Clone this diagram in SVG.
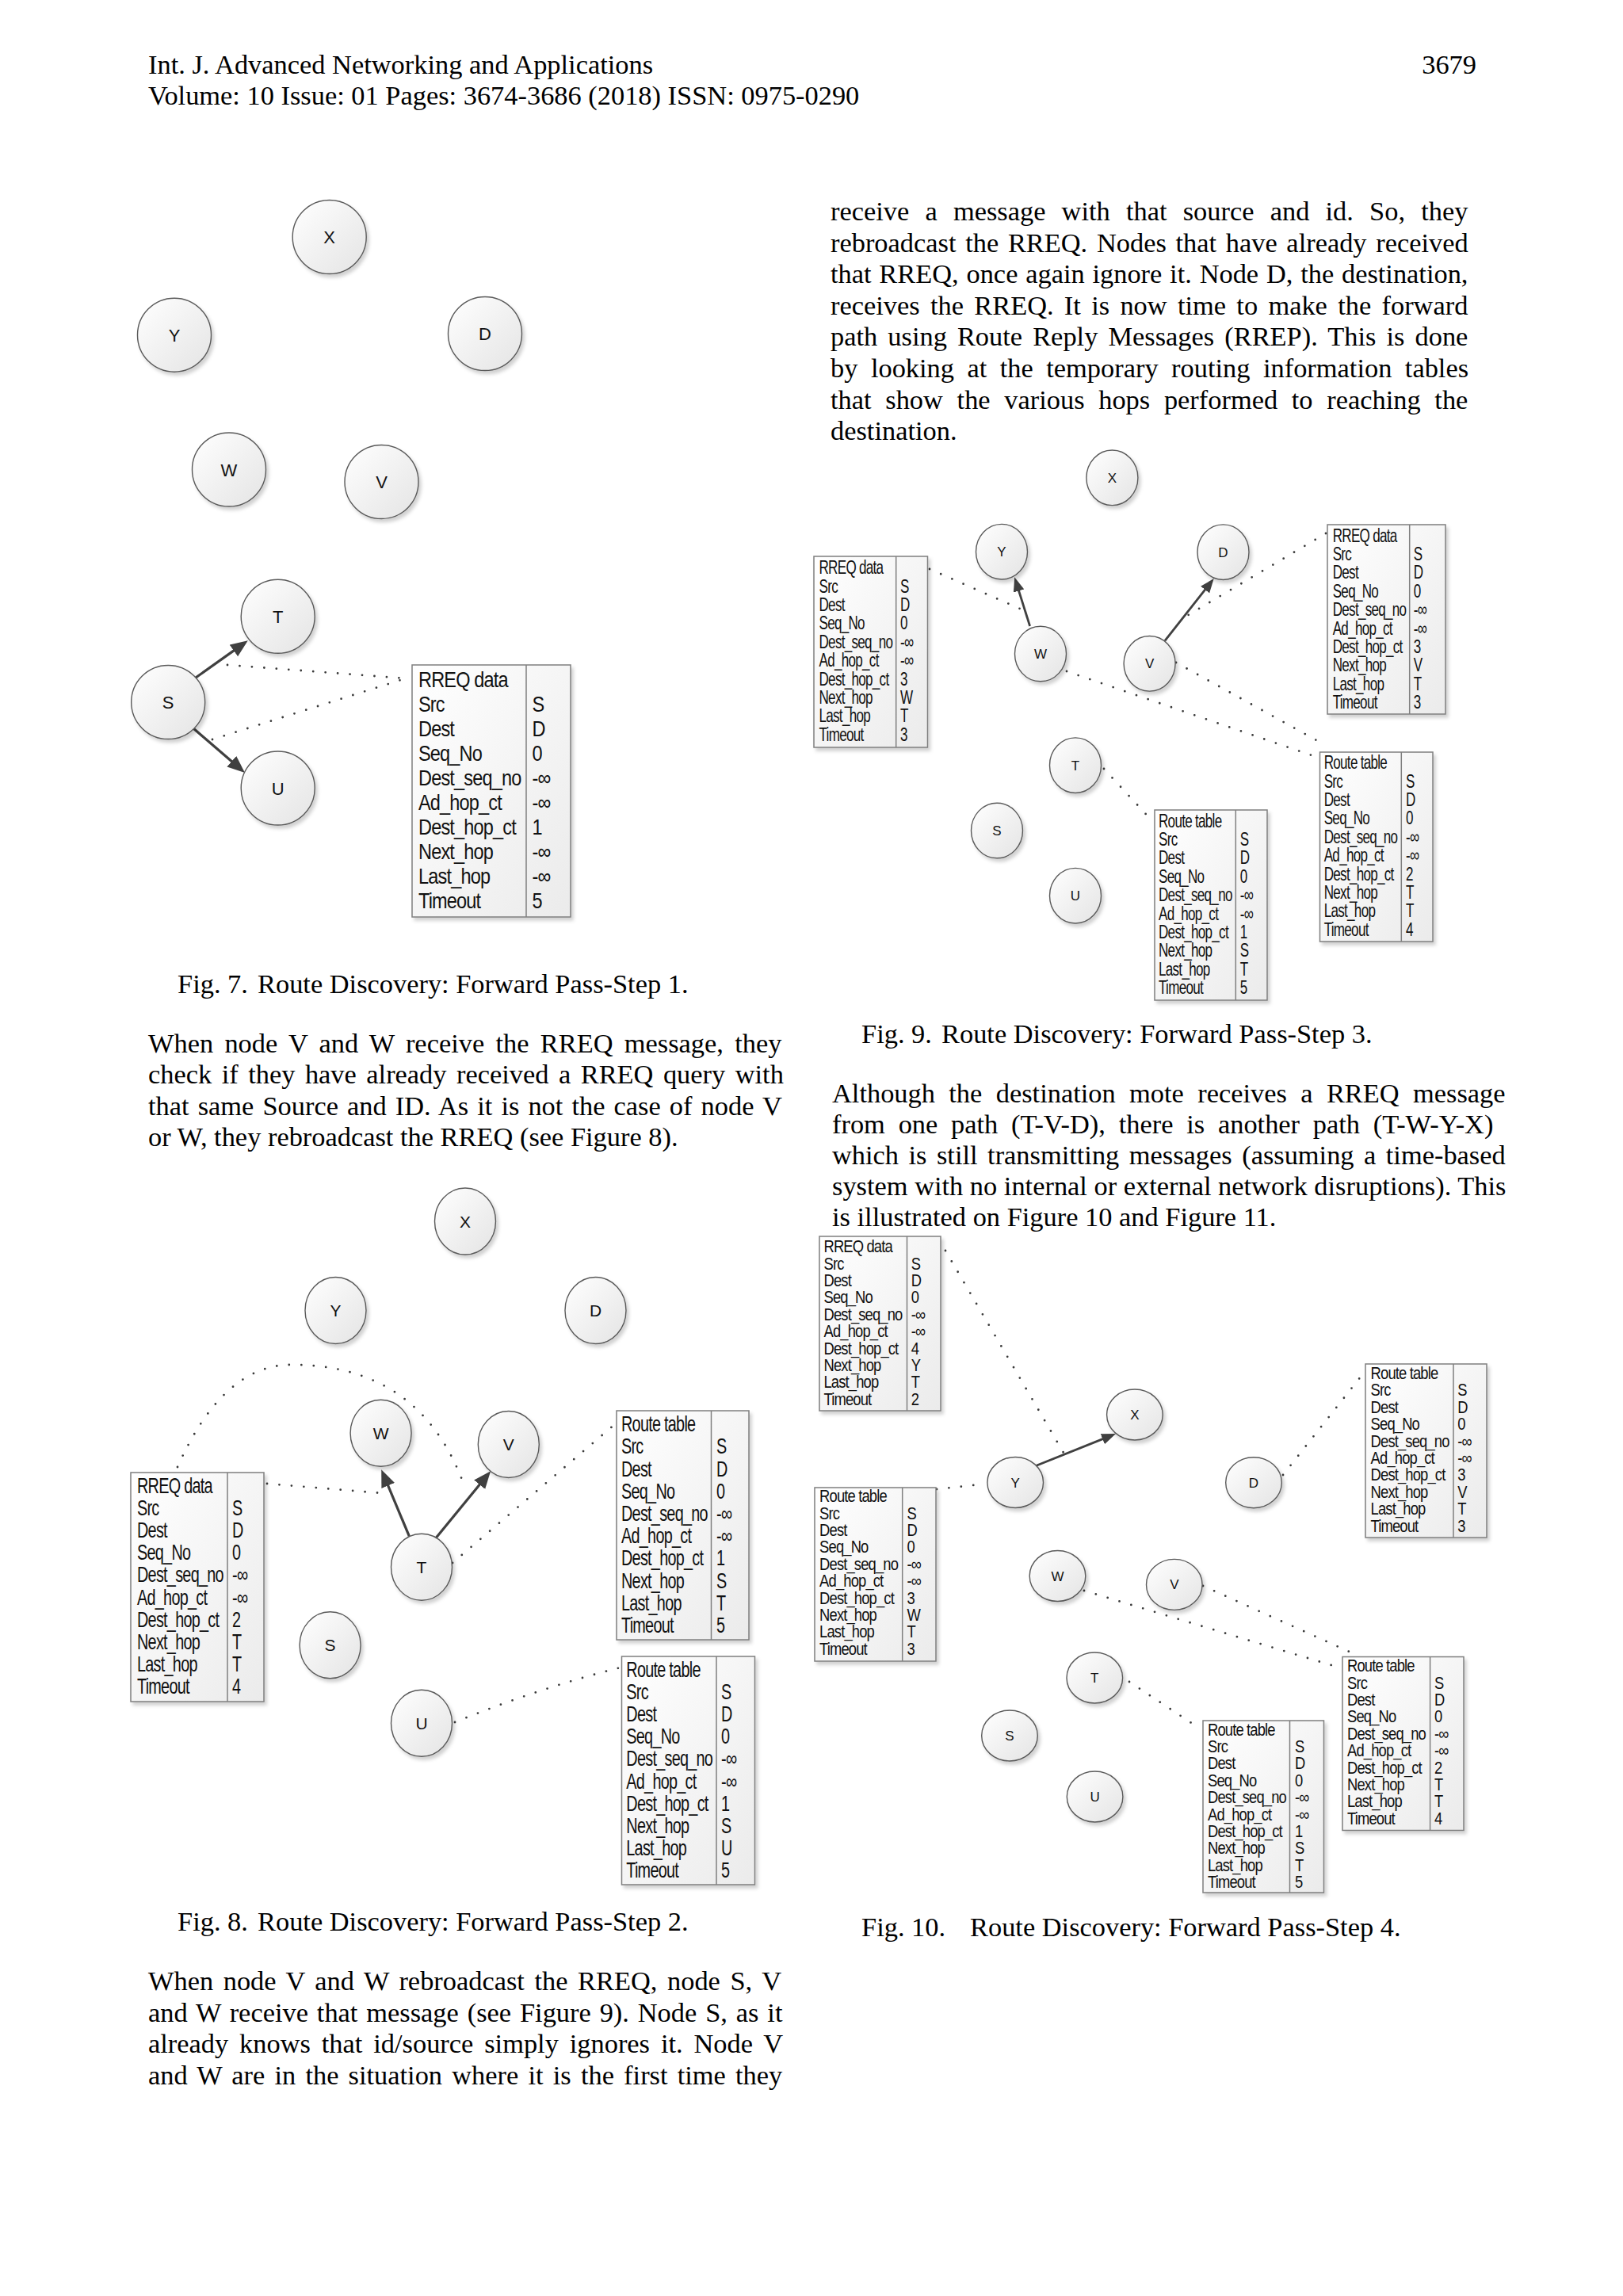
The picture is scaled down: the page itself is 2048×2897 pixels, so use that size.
<svg xmlns="http://www.w3.org/2000/svg" width="2048" height="2897" viewBox="0 0 2048 2897">
<style>
.body{font-family:"Liberation Serif","Times New Roman",serif;font-size:34.4px;fill:#000}
.node ellipse{fill:url(#ng);stroke:#5a5a5a;stroke-width:1.4;filter:url(#sh)}
.lbl{font-family:"Liberation Sans",Arial,sans-serif;text-anchor:middle;fill:#111}
.tb rect{fill:url(#tg);stroke:#7f7f7f;stroke-width:1.5;filter:url(#sh)}
.tb line{stroke:#7f7f7f;stroke-width:1.5}
.tt{font-family:"Liberation Sans",Arial,sans-serif;fill:#111;letter-spacing:-1px}
.dot{fill:none;stroke:#3a3a3a;stroke-width:2.8;stroke-linecap:round;stroke-dasharray:0 15.5}
.arr{stroke:#404040;stroke-width:3.2;fill:none}
.a1{marker-end:url(#ah)}
.a2{marker-end:url(#ah2);stroke-width:2.8}
</style>
<defs>
<linearGradient id="ng" x1="0" y1="0" x2="1" y2="1"><stop offset="0" stop-color="#ffffff"/><stop offset="1" stop-color="#e4e4e4"/></linearGradient>
<linearGradient id="tg" x1="0" y1="0" x2="1" y2="1"><stop offset="0" stop-color="#ffffff"/><stop offset="1" stop-color="#ebebeb"/></linearGradient>
<filter id="sh" x="-20%" y="-20%" width="150%" height="150%"><feDropShadow dx="3" dy="4" stdDeviation="2" flood-color="#000" flood-opacity="0.18"/></filter>
<marker id="ah" markerUnits="userSpaceOnUse" markerWidth="24" markerHeight="20" refX="14" refY="9" orient="auto"><path d="M0,0 L22,9 L0,18 z" fill="#404040"/></marker>
<marker id="ah2" markerUnits="userSpaceOnUse" markerWidth="20" markerHeight="16" refX="11" refY="7" orient="auto"><path d="M0,0 L18,7 L0,14 z" fill="#404040"/></marker>
</defs>
<rect width="2048" height="2897" fill="#fff"/>

<g id="header">
<text class="body" x="187" y="93">Int. J. Advanced Networking and Applications</text>
<text class="body" x="1863" y="93" text-anchor="end">3679</text>
<text class="body" x="187" y="132">Volume: 10 Issue: 01 Pages: 3674-3686 (2018) ISSN: 0975-0290</text>
</g>

<g id="text">
<text class="body" x="1048" y="278" style="word-spacing:11.6px">receive a message with that source and id. So, they</text>
<text class="body" x="1048" y="317.6" style="word-spacing:3.1px">rebroadcast the RREQ. Nodes that have already received</text>
<text class="body" x="1048" y="357.2" style="word-spacing:1.2px">that RREQ, once again ignore it. Node D, the destination,</text>
<text class="body" x="1048" y="396.8" style="word-spacing:4.7px">receives the RREQ. It is now time to make the forward</text>
<text class="body" x="1048" y="436.4" style="word-spacing:4.5px">path using Route Reply Messages (RREP). This is done</text>
<text class="body" x="1048" y="476" style="word-spacing:7.9px">by looking at the temporary routing information tables</text>
<text class="body" x="1048" y="515.6" style="word-spacing:9.1px">that show the various hops performed to reaching the</text>
<text class="body" x="1048" y="555.2">destination.</text>

<text class="body" x="224" y="1253">Fig. 7.</text><text class="body" x="325" y="1253">Route Discovery: Forward Pass-Step 1.</text>
<text class="body" x="187" y="1328" style="word-spacing:5.7px">When node V and W receive the RREQ message, they</text>
<text class="body" x="187" y="1367.3" style="word-spacing:3.9px">check if they have already received a RREQ query with</text>
<text class="body" x="187" y="1406.6" style="word-spacing:2.5px">that same Source and ID. As it is not the case of node V</text>
<text class="body" x="187" y="1445.9">or W, they rebroadcast the RREQ (see Figure 8).</text>

<text class="body" x="1087" y="1316">Fig. 9.</text><text class="body" x="1188" y="1316">Route Discovery: Forward Pass-Step 3.</text>
<text class="body" x="1050" y="1391" style="word-spacing:8.8px">Although the destination mote receives a RREQ message</text>
<text class="body" x="1050" y="1430" style="word-spacing:8.2px">from one path (T-V-D), there is another path (T-W-Y-X)</text>
<text class="body" x="1050" y="1469" style="word-spacing:3.9px">which is still transmitting messages (assuming a time-based</text>
<text class="body" x="1050" y="1508">system with no internal or external network disruptions). This</text>
<text class="body" x="1050" y="1547">is illustrated on Figure 10 and Figure 11.</text>

<text class="body" x="224" y="2436">Fig. 8.</text><text class="body" x="325" y="2436">Route Discovery: Forward Pass-Step 2.</text>
<text class="body" x="187" y="2511" style="word-spacing:4px">When node V and W rebroadcast the RREQ, node S, V</text>
<text class="body" x="187" y="2550.5" style="word-spacing:2.3px">and W receive that message (see Figure 9). Node S, as it</text>
<text class="body" x="187" y="2590" style="word-spacing:5.3px">already knows that id/source simply ignores it. Node V</text>
<text class="body" x="187" y="2629.5" style="word-spacing:3.6px">and W are in the situation where it is the first time they</text>

<text class="body" x="1087" y="2443">Fig. 10.</text><text class="body" x="1224" y="2443">Route Discovery: Forward Pass-Step 4.</text>
</g>

<g id="connectors">
<!-- Fig 7 -->
<path class="dot" d="M287,839 L512,856"/>
<path class="dot" d="M268,933 L512,856"/>
<line class="arr a1" x1="247" y1="855" x2="306.3" y2="812.9"/>
<line class="arr a1" x1="244.3" y1="919.3" x2="302.9" y2="969.8"/>
<!-- Fig 8 -->
<path class="dot" d="M224,1851 Q280,1725 364,1722 Q530,1720 586,1875"/>
<path class="dot" d="M337,1872 L482,1884"/>
<path class="dot" d="M571,1972 L776,1797"/>
<path class="dot" d="M574,2173 Q680,2130 783,2104"/>
<line class="arr a1" x1="516.3" y1="1938.1" x2="484.3" y2="1861.6"/>
<line class="arr a1" x1="550.5" y1="1940" x2="614" y2="1862.4"/>
<!-- Fig 9 -->
<path class="dot" d="M1173,718 L1296,772"/>
<path class="dot" d="M1673,673 L1496,778"/>
<path class="dot" d="M1346,847 L1655,953"/>
<path class="dot" d="M1484,836 L1672,940"/>
<path class="dot" d="M1393,970 L1455,1037"/>
<line class="arr a2" x1="1299.6" y1="790" x2="1282.3" y2="735"/>
<line class="arr a2" x1="1470" y1="808.3" x2="1527.4" y2="735.5"/>
<!-- Fig 10 -->
<path class="dot" d="M1193,1578 L1342,1833"/>
<path class="dot" d="M1182,1879 L1237,1873"/>
<path class="dot" d="M1619,1861 L1721,1732"/>
<path class="dot" d="M1368,2007 L1693,2105"/>
<path class="dot" d="M1518,2001 L1707,2086"/>
<path class="dot" d="M1425,2122 L1514,2181"/>
<line class="arr a2" x1="1307.7" y1="1849.2" x2="1401.5" y2="1811.6"/>
</g>

<!-- Fig 7 nodes -->
<g id="f7-X" class="node"><ellipse cx="415.7" cy="299" rx="46.5" ry="46.5"/><text class="lbl" font-size="22" x="415.7" y="307">X</text></g>
<g id="f7-Y" class="node"><ellipse cx="220" cy="422.7" rx="46.5" ry="46.5"/><text class="lbl" font-size="22" x="220" y="430.7">Y</text></g>
<g id="f7-D" class="node"><ellipse cx="612" cy="421" rx="46.5" ry="46.5"/><text class="lbl" font-size="22" x="612" y="429">D</text></g>
<g id="f7-W" class="node"><ellipse cx="289" cy="592.5" rx="46.5" ry="46.5"/><text class="lbl" font-size="22" x="289" y="600.5">W</text></g>
<g id="f7-V" class="node"><ellipse cx="481.5" cy="608" rx="46.5" ry="46.5"/><text class="lbl" font-size="22" x="481.5" y="616">V</text></g>
<g id="f7-T" class="node"><ellipse cx="350.7" cy="777.8" rx="46.5" ry="46.5"/><text class="lbl" font-size="22" x="350.7" y="785.8">T</text></g>
<g id="f7-S" class="node"><ellipse cx="212.2" cy="886" rx="46.5" ry="46.5"/><text class="lbl" font-size="22" x="212.2" y="894">S</text></g>
<g id="f7-U" class="node"><ellipse cx="350.7" cy="994.5" rx="46.5" ry="46.5"/><text class="lbl" font-size="22" x="350.7" y="1002.5">U</text></g>

<g id="f7-table" class="tb">
<rect x="520" y="839" width="200" height="318"/><line x1="664" y1="839" x2="664" y2="1157"/>
<g class="tt" font-size="28" transform="translate(528,866.7) scale(0.841,1)">
<text><tspan x="0" y="0">RREQ data</tspan><tspan x="0" y="31">Src</tspan><tspan x="0" y="62">Dest</tspan><tspan x="0" y="93">Seq_No</tspan><tspan x="0" y="124">Dest_seq_no</tspan><tspan x="0" y="155">Ad_hop_ct</tspan><tspan x="0" y="186">Dest_hop_ct</tspan><tspan x="0" y="217">Next_hop</tspan><tspan x="0" y="248">Last_hop</tspan><tspan x="0" y="279">Timeout</tspan></text>
<text><tspan x="170.6" y="31">S</tspan><tspan x="170.6" y="62">D</tspan><tspan x="170.6" y="93">0</tspan><tspan x="170.6" y="124">-∞</tspan><tspan x="170.6" y="155">-∞</tspan><tspan x="170.6" y="186">1</tspan><tspan x="170.6" y="217">-∞</tspan><tspan x="170.6" y="248">-∞</tspan><tspan x="170.6" y="279">5</tspan></text>
</g></g>

<!-- Fig 8 nodes -->
<g id="f8-X" class="node"><ellipse cx="587" cy="1541" rx="38.5" ry="42"/><text class="lbl" font-size="21" x="587" y="1548.5">X</text></g>
<g id="f8-Y" class="node"><ellipse cx="423.5" cy="1653.5" rx="38.5" ry="42"/><text class="lbl" font-size="21" x="423.5" y="1661">Y</text></g>
<g id="f8-D" class="node"><ellipse cx="751.5" cy="1653.5" rx="38.5" ry="42"/><text class="lbl" font-size="21" x="751.5" y="1661">D</text></g>
<g id="f8-W" class="node"><ellipse cx="480.6" cy="1808.3" rx="38.5" ry="42"/><text class="lbl" font-size="21" x="480.6" y="1815.8">W</text></g>
<g id="f8-V" class="node"><ellipse cx="641.8" cy="1822.5" rx="38.5" ry="42"/><text class="lbl" font-size="21" x="641.8" y="1830">V</text></g>
<g id="f8-T" class="node"><ellipse cx="532" cy="1977.2" rx="38.5" ry="42"/><text class="lbl" font-size="21" x="532" y="1984.7">T</text></g>
<g id="f8-S" class="node"><ellipse cx="416.6" cy="2075.8" rx="38.5" ry="42"/><text class="lbl" font-size="21" x="416.6" y="2083.3">S</text></g>
<g id="f8-U" class="node"><ellipse cx="532" cy="2174.3" rx="38.5" ry="42"/><text class="lbl" font-size="21" x="532" y="2181.8">U</text></g>

<g id="f8-table-rreq" class="tb">
<rect x="165" y="1858" width="168" height="289"/><line x1="287" y1="1858" x2="287" y2="2147"/>
<g class="tt" font-size="27" transform="translate(173,1883.7) scale(0.735,1)">
<text><tspan x="0" y="0">RREQ data</tspan><tspan x="0" y="28.2">Src</tspan><tspan x="0" y="56.4">Dest</tspan><tspan x="0" y="84.6">Seq_No</tspan><tspan x="0" y="112.8">Dest_seq_no</tspan><tspan x="0" y="141">Ad_hop_ct</tspan><tspan x="0" y="169.2">Dest_hop_ct</tspan><tspan x="0" y="197.4">Next_hop</tspan><tspan x="0" y="225.6">Last_hop</tspan><tspan x="0" y="253.8">Timeout</tspan></text>
<text><tspan x="163.3" y="28.2">S</tspan><tspan x="163.3" y="56.4">D</tspan><tspan x="163.3" y="84.6">0</tspan><tspan x="163.3" y="112.8">-∞</tspan><tspan x="163.3" y="141">-∞</tspan><tspan x="163.3" y="169.2">2</tspan><tspan x="163.3" y="197.4">T</tspan><tspan x="163.3" y="225.6">T</tspan><tspan x="163.3" y="253.8">4</tspan></text>
</g></g>

<g id="f8-table-t" class="tb">
<rect x="778" y="1780" width="167" height="289"/><line x1="897.5" y1="1780" x2="897.5" y2="2069"/>
<g class="tt" font-size="27" transform="translate(784,1806.3) scale(0.735,1)">
<text><tspan x="0" y="0">Route table</tspan><tspan x="0" y="28.2">Src</tspan><tspan x="0" y="56.4">Dest</tspan><tspan x="0" y="84.6">Seq_No</tspan><tspan x="0" y="112.8">Dest_seq_no</tspan><tspan x="0" y="141">Ad_hop_ct</tspan><tspan x="0" y="169.2">Dest_hop_ct</tspan><tspan x="0" y="197.4">Next_hop</tspan><tspan x="0" y="225.6">Last_hop</tspan><tspan x="0" y="253.8">Timeout</tspan></text>
<text><tspan x="163.3" y="28.2">S</tspan><tspan x="163.3" y="56.4">D</tspan><tspan x="163.3" y="84.6">0</tspan><tspan x="163.3" y="112.8">-∞</tspan><tspan x="163.3" y="141">-∞</tspan><tspan x="163.3" y="169.2">1</tspan><tspan x="163.3" y="197.4">S</tspan><tspan x="163.3" y="225.6">T</tspan><tspan x="163.3" y="253.8">5</tspan></text>
</g></g>

<g id="f8-table-u" class="tb">
<rect x="784.5" y="2090" width="168" height="288"/><line x1="904" y1="2090" x2="904" y2="2378"/>
<g class="tt" font-size="27" transform="translate(790.3,2115.7) scale(0.735,1)">
<text><tspan x="0" y="0">Route table</tspan><tspan x="0" y="28.2">Src</tspan><tspan x="0" y="56.4">Dest</tspan><tspan x="0" y="84.6">Seq_No</tspan><tspan x="0" y="112.8">Dest_seq_no</tspan><tspan x="0" y="141">Ad_hop_ct</tspan><tspan x="0" y="169.2">Dest_hop_ct</tspan><tspan x="0" y="197.4">Next_hop</tspan><tspan x="0" y="225.6">Last_hop</tspan><tspan x="0" y="253.8">Timeout</tspan></text>
<text><tspan x="163" y="28.2">S</tspan><tspan x="163" y="56.4">D</tspan><tspan x="163" y="84.6">0</tspan><tspan x="163" y="112.8">-∞</tspan><tspan x="163" y="141">-∞</tspan><tspan x="163" y="169.2">1</tspan><tspan x="163" y="197.4">S</tspan><tspan x="163" y="225.6">U</tspan><tspan x="163" y="253.8">5</tspan></text>
</g></g>

<!-- Fig 9 nodes -->
<g id="f9-X" class="node"><ellipse cx="1403.4" cy="602.8" rx="32.5" ry="34.8"/><text class="lbl" font-size="17" x="1403.4" y="608.8">X</text></g>
<g id="f9-Y" class="node"><ellipse cx="1264" cy="696.2" rx="32.5" ry="34.8"/><text class="lbl" font-size="17" x="1264" y="702.2">Y</text></g>
<g id="f9-D" class="node"><ellipse cx="1543.5" cy="696.7" rx="32.5" ry="34.8"/><text class="lbl" font-size="17" x="1543.5" y="702.7">D</text></g>
<g id="f9-W" class="node"><ellipse cx="1313" cy="825" rx="32.5" ry="34.8"/><text class="lbl" font-size="17" x="1313" y="831">W</text></g>
<g id="f9-V" class="node"><ellipse cx="1450.6" cy="837.3" rx="32.5" ry="34.8"/><text class="lbl" font-size="17" x="1450.6" y="843.3">V</text></g>
<g id="f9-T" class="node"><ellipse cx="1357" cy="965.7" rx="32.5" ry="34.8"/><text class="lbl" font-size="17" x="1357" y="971.7">T</text></g>
<g id="f9-S" class="node"><ellipse cx="1258" cy="1048" rx="32.5" ry="34.8"/><text class="lbl" font-size="17" x="1258" y="1054">S</text></g>
<g id="f9-U" class="node"><ellipse cx="1357" cy="1130.2" rx="32.5" ry="34.8"/><text class="lbl" font-size="17" x="1357" y="1136.2">U</text></g>

<g id="f9-table-w" class="tb">
<rect x="1027" y="702" width="143.5" height="241"/><line x1="1130.7" y1="702" x2="1130.7" y2="943"/>
<g class="tt" font-size="24" transform="translate(1033.5,724.2) scale(0.711,1)">
<text><tspan x="0" y="0">RREQ data</tspan><tspan x="0" y="23.4">Src</tspan><tspan x="0" y="46.8">Dest</tspan><tspan x="0" y="70.2">Seq_No</tspan><tspan x="0" y="93.6">Dest_seq_no</tspan><tspan x="0" y="117">Ad_hop_ct</tspan><tspan x="0" y="140.4">Dest_hop_ct</tspan><tspan x="0" y="163.8">Next_hop</tspan><tspan x="0" y="187.2">Last_hop</tspan><tspan x="0" y="210.6">Timeout</tspan></text>
<text><tspan x="144.2" y="23.4">S</tspan><tspan x="144.2" y="46.8">D</tspan><tspan x="144.2" y="70.2">0</tspan><tspan x="144.2" y="93.6">-∞</tspan><tspan x="144.2" y="117">-∞</tspan><tspan x="144.2" y="140.4">3</tspan><tspan x="144.2" y="163.8">W</tspan><tspan x="144.2" y="187.2">T</tspan><tspan x="144.2" y="210.6">3</tspan></text>
</g></g>

<g id="f9-table-d" class="tb">
<rect x="1675" y="662" width="149" height="239"/><line x1="1778.7" y1="662" x2="1778.7" y2="901"/>
<g class="tt" font-size="24" transform="translate(1681.7,683.6) scale(0.711,1)">
<text><tspan x="0" y="0">RREQ data</tspan><tspan x="0" y="23.4">Src</tspan><tspan x="0" y="46.8">Dest</tspan><tspan x="0" y="70.2">Seq_No</tspan><tspan x="0" y="93.6">Dest_seq_no</tspan><tspan x="0" y="117">Ad_hop_ct</tspan><tspan x="0" y="140.4">Dest_hop_ct</tspan><tspan x="0" y="163.8">Next_hop</tspan><tspan x="0" y="187.2">Last_hop</tspan><tspan x="0" y="210.6">Timeout</tspan></text>
<text><tspan x="143.6" y="23.4">S</tspan><tspan x="143.6" y="46.8">D</tspan><tspan x="143.6" y="70.2">0</tspan><tspan x="143.6" y="93.6">-∞</tspan><tspan x="143.6" y="117">-∞</tspan><tspan x="143.6" y="140.4">3</tspan><tspan x="143.6" y="163.8">V</tspan><tspan x="143.6" y="187.2">T</tspan><tspan x="143.6" y="210.6">3</tspan></text>
</g></g>

<g id="f9-table-wv" class="tb">
<rect x="1665.5" y="949" width="142.5" height="239"/><line x1="1768.3" y1="949" x2="1768.3" y2="1188"/>
<g class="tt" font-size="24" transform="translate(1670.7,970.3) scale(0.711,1)">
<text><tspan x="0" y="0">Route table</tspan><tspan x="0" y="23.4">Src</tspan><tspan x="0" y="46.8">Dest</tspan><tspan x="0" y="70.2">Seq_No</tspan><tspan x="0" y="93.6">Dest_seq_no</tspan><tspan x="0" y="117">Ad_hop_ct</tspan><tspan x="0" y="140.4">Dest_hop_ct</tspan><tspan x="0" y="163.8">Next_hop</tspan><tspan x="0" y="187.2">Last_hop</tspan><tspan x="0" y="210.6">Timeout</tspan></text>
<text><tspan x="145.3" y="23.4">S</tspan><tspan x="145.3" y="46.8">D</tspan><tspan x="145.3" y="70.2">0</tspan><tspan x="145.3" y="93.6">-∞</tspan><tspan x="145.3" y="117">-∞</tspan><tspan x="145.3" y="140.4">2</tspan><tspan x="145.3" y="163.8">T</tspan><tspan x="145.3" y="187.2">T</tspan><tspan x="145.3" y="210.6">4</tspan></text>
</g></g>

<g id="f9-table-t" class="tb">
<rect x="1457" y="1022" width="142" height="240"/><line x1="1559.3" y1="1022" x2="1559.3" y2="1262"/>
<g class="tt" font-size="24" transform="translate(1462,1043.6) scale(0.711,1)">
<text><tspan x="0" y="0">Route table</tspan><tspan x="0" y="23.4">Src</tspan><tspan x="0" y="46.8">Dest</tspan><tspan x="0" y="70.2">Seq_No</tspan><tspan x="0" y="93.6">Dest_seq_no</tspan><tspan x="0" y="117">Ad_hop_ct</tspan><tspan x="0" y="140.4">Dest_hop_ct</tspan><tspan x="0" y="163.8">Next_hop</tspan><tspan x="0" y="187.2">Last_hop</tspan><tspan x="0" y="210.6">Timeout</tspan></text>
<text><tspan x="144.6" y="23.4">S</tspan><tspan x="144.6" y="46.8">D</tspan><tspan x="144.6" y="70.2">0</tspan><tspan x="144.6" y="93.6">-∞</tspan><tspan x="144.6" y="117">-∞</tspan><tspan x="144.6" y="140.4">1</tspan><tspan x="144.6" y="163.8">S</tspan><tspan x="144.6" y="187.2">T</tspan><tspan x="144.6" y="210.6">5</tspan></text>
</g></g>

<!-- Fig 10 nodes -->
<g id="f10-X" class="node"><ellipse cx="1431.9" cy="1785" rx="35.3" ry="32"/><text class="lbl" font-size="17" x="1431.9" y="1791">X</text></g>
<g id="f10-Y" class="node"><ellipse cx="1281.2" cy="1870.5" rx="35.3" ry="32"/><text class="lbl" font-size="17" x="1281.2" y="1876.5">Y</text></g>
<g id="f10-D" class="node"><ellipse cx="1582" cy="1870.7" rx="35.3" ry="32"/><text class="lbl" font-size="17" x="1582" y="1876.7">D</text></g>
<g id="f10-W" class="node"><ellipse cx="1334.5" cy="1988.5" rx="35.3" ry="32"/><text class="lbl" font-size="17" x="1334.5" y="1994.5">W</text></g>
<g id="f10-V" class="node"><ellipse cx="1481.8" cy="1999.4" rx="35.3" ry="32"/><text class="lbl" font-size="17" x="1481.8" y="2005.4">V</text></g>
<g id="f10-T" class="node"><ellipse cx="1381.3" cy="2117" rx="35.3" ry="32"/><text class="lbl" font-size="17" x="1381.3" y="2123">T</text></g>
<g id="f10-S" class="node"><ellipse cx="1274" cy="2190" rx="35.3" ry="32"/><text class="lbl" font-size="17" x="1274" y="2196">S</text></g>
<g id="f10-U" class="node"><ellipse cx="1381.6" cy="2267" rx="35.3" ry="32"/><text class="lbl" font-size="17" x="1381.6" y="2273">U</text></g>

<g id="f10-table-rreq" class="tb">
<rect x="1034" y="1560" width="153" height="220"/><line x1="1144.5" y1="1560" x2="1144.5" y2="1780"/>
<g class="tt" font-size="21.5" transform="translate(1039.5,1580.2) scale(0.856,1)">
<text><tspan x="0" y="0">RREQ data</tspan><tspan x="0" y="21.4">Src</tspan><tspan x="0" y="42.8">Dest</tspan><tspan x="0" y="64.2">Seq_No</tspan><tspan x="0" y="85.6">Dest_seq_no</tspan><tspan x="0" y="107">Ad_hop_ct</tspan><tspan x="0" y="128.4">Dest_hop_ct</tspan><tspan x="0" y="149.8">Next_hop</tspan><tspan x="0" y="171.2">Last_hop</tspan><tspan x="0" y="192.6">Timeout</tspan></text>
<text><tspan x="128.7" y="21.4">S</tspan><tspan x="128.7" y="42.8">D</tspan><tspan x="128.7" y="64.2">0</tspan><tspan x="128.7" y="85.6">-∞</tspan><tspan x="128.7" y="107">-∞</tspan><tspan x="128.7" y="128.4">4</tspan><tspan x="128.7" y="149.8">Y</tspan><tspan x="128.7" y="171.2">T</tspan><tspan x="128.7" y="192.6">2</tspan></text>
</g></g>

<g id="f10-table-y" class="tb">
<rect x="1028" y="1877" width="153" height="219"/><line x1="1138.7" y1="1877" x2="1138.7" y2="2096"/>
<g class="tt" font-size="21.5" transform="translate(1034.1,1895.2) scale(0.856,1)">
<text><tspan x="0" y="0">Route table</tspan><tspan x="0" y="21.4">Src</tspan><tspan x="0" y="42.8">Dest</tspan><tspan x="0" y="64.2">Seq_No</tspan><tspan x="0" y="85.6">Dest_seq_no</tspan><tspan x="0" y="107">Ad_hop_ct</tspan><tspan x="0" y="128.4">Dest_hop_ct</tspan><tspan x="0" y="149.8">Next_hop</tspan><tspan x="0" y="171.2">Last_hop</tspan><tspan x="0" y="192.6">Timeout</tspan></text>
<text><tspan x="129" y="21.4">S</tspan><tspan x="129" y="42.8">D</tspan><tspan x="129" y="64.2">0</tspan><tspan x="129" y="85.6">-∞</tspan><tspan x="129" y="107">-∞</tspan><tspan x="129" y="128.4">3</tspan><tspan x="129" y="149.8">W</tspan><tspan x="129" y="171.2">T</tspan><tspan x="129" y="192.6">3</tspan></text>
</g></g>

<g id="f10-table-d" class="tb">
<rect x="1723" y="1721" width="153" height="219"/><line x1="1834" y1="1721" x2="1834" y2="1940"/>
<g class="tt" font-size="21.5" transform="translate(1729.6,1740.1) scale(0.856,1)">
<text><tspan x="0" y="0">Route table</tspan><tspan x="0" y="21.4">Src</tspan><tspan x="0" y="42.8">Dest</tspan><tspan x="0" y="64.2">Seq_No</tspan><tspan x="0" y="85.6">Dest_seq_no</tspan><tspan x="0" y="107">Ad_hop_ct</tspan><tspan x="0" y="128.4">Dest_hop_ct</tspan><tspan x="0" y="149.8">Next_hop</tspan><tspan x="0" y="171.2">Last_hop</tspan><tspan x="0" y="192.6">Timeout</tspan></text>
<text><tspan x="128.2" y="21.4">S</tspan><tspan x="128.2" y="42.8">D</tspan><tspan x="128.2" y="64.2">0</tspan><tspan x="128.2" y="85.6">-∞</tspan><tspan x="128.2" y="107">-∞</tspan><tspan x="128.2" y="128.4">3</tspan><tspan x="128.2" y="149.8">V</tspan><tspan x="128.2" y="171.2">T</tspan><tspan x="128.2" y="192.6">3</tspan></text>
</g></g>

<g id="f10-table-wv" class="tb">
<rect x="1694" y="2090.5" width="153" height="219"/><line x1="1804.6" y1="2090.5" x2="1804.6" y2="2309.5"/>
<g class="tt" font-size="21.5" transform="translate(1700,2109.3) scale(0.856,1)">
<text><tspan x="0" y="0">Route table</tspan><tspan x="0" y="21.4">Src</tspan><tspan x="0" y="42.8">Dest</tspan><tspan x="0" y="64.2">Seq_No</tspan><tspan x="0" y="85.6">Dest_seq_no</tspan><tspan x="0" y="107">Ad_hop_ct</tspan><tspan x="0" y="128.4">Dest_hop_ct</tspan><tspan x="0" y="149.8">Next_hop</tspan><tspan x="0" y="171.2">Last_hop</tspan><tspan x="0" y="192.6">Timeout</tspan></text>
<text><tspan x="128.5" y="21.4">S</tspan><tspan x="128.5" y="42.8">D</tspan><tspan x="128.5" y="64.2">0</tspan><tspan x="128.5" y="85.6">-∞</tspan><tspan x="128.5" y="107">-∞</tspan><tspan x="128.5" y="128.4">2</tspan><tspan x="128.5" y="149.8">T</tspan><tspan x="128.5" y="171.2">T</tspan><tspan x="128.5" y="192.6">4</tspan></text>
</g></g>

<g id="f10-table-t" class="tb">
<rect x="1518" y="2171" width="152.5" height="217"/><line x1="1627.5" y1="2171" x2="1627.5" y2="2388"/>
<g class="tt" font-size="21.5" transform="translate(1524,2189.7) scale(0.856,1)">
<text><tspan x="0" y="0">Route table</tspan><tspan x="0" y="21.4">Src</tspan><tspan x="0" y="42.8">Dest</tspan><tspan x="0" y="64.2">Seq_No</tspan><tspan x="0" y="85.6">Dest_seq_no</tspan><tspan x="0" y="107">Ad_hop_ct</tspan><tspan x="0" y="128.4">Dest_hop_ct</tspan><tspan x="0" y="149.8">Next_hop</tspan><tspan x="0" y="171.2">Last_hop</tspan><tspan x="0" y="192.6">Timeout</tspan></text>
<text><tspan x="128.5" y="21.4">S</tspan><tspan x="128.5" y="42.8">D</tspan><tspan x="128.5" y="64.2">0</tspan><tspan x="128.5" y="85.6">-∞</tspan><tspan x="128.5" y="107">-∞</tspan><tspan x="128.5" y="128.4">1</tspan><tspan x="128.5" y="149.8">S</tspan><tspan x="128.5" y="171.2">T</tspan><tspan x="128.5" y="192.6">5</tspan></text>
</g></g>
</svg>
